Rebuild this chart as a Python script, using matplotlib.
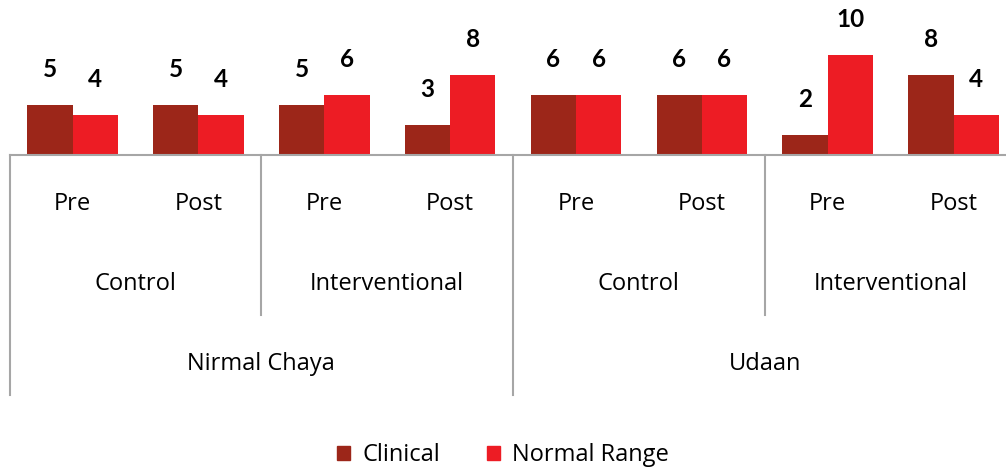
import matplotlib
matplotlib.use("Agg")
import matplotlib.pyplot as plt
from matplotlib.patches import Patch
import matplotlib.transforms as mtransforms

# Data
timepoints = ["Pre", "Post", "Pre", "Post", "Pre", "Post", "Pre", "Post"]
arms = ["Control", "Interventional", "Control", "Interventional"]
sites = ["Nirmal Chaya", "Udaan"]
clinical = [5, 5, 5, 3, 6, 6, 2, 8]
normal_range = [4, 4, 6, 8, 6, 6, 10, 4]
series_names = ["Clinical", "Normal Range"]

c_clin = "#9C2619"
c_norm = "#ED1C24"
grid_c = "#A6A6A6"
font = "Open Sans"
numfont = "Lato"
cat_size = 17

W, H = 1006, 468
fig = plt.figure(figsize=(W / 100, H / 100), dpi=100)
base_px = 155
left_px = 9.6
width_px = 1006.9
ax = fig.add_axes([left_px / W, (H - base_px) / H, width_px / W, base_px / H])

n = len(clinical)
xs = list(range(n))
bw = 0.36
ax.bar([x - bw / 2 for x in xs], clinical, width=bw, color=c_clin, label=series_names[0])
ax.bar([x + bw / 2 for x in xs], normal_range, width=bw, color=c_norm, label=series_names[1])

for x, v in zip(xs, clinical):
    ax.annotate(str(v), (x - bw / 2, v), xytext=(0, 17.5), textcoords="offset points",
                ha="center", va="bottom", fontsize=17.5, fontweight="bold", family=numfont)
for x, v in zip(xs, normal_range):
    ax.annotate(str(v), (x + bw / 2, v), xytext=(0, 17.5), textcoords="offset points",
                ha="center", va="bottom", fontsize=17.5, fontweight="bold", family=numfont)

ax.set_xlim(-0.5, n - 0.5)
ax.set_ylim(0, base_px / 10)
for s in ["top", "right", "left"]:
    ax.spines[s].set_visible(False)
ax.spines["bottom"].set_color(grid_c)
ax.spines["bottom"].set_linewidth(1.5)
ax.set_xticks([])
ax.set_yticks([])

trans = mtransforms.blended_transform_factory(ax.transData, ax.transAxes)

def yfrac(py):
    return (base_px - py) / base_px

# timepoint labels
for x, t in zip(xs, timepoints):
    ax.text(x, yfrac(204), t, transform=trans, ha="center", va="center",
            fontsize=cat_size, family=font)
# arm labels
for i, a in enumerate(arms):
    ax.text(2 * i + 0.5, yfrac(284), a, transform=trans, ha="center", va="center",
            fontsize=cat_size, family=font)
# site labels
for i, s in enumerate(sites):
    ax.text(4 * i + 1.5, yfrac(364), s, transform=trans, ha="center", va="center",
            fontsize=cat_size, family=font)

# separator lines
for xb in [-0.5, 3.5, 7.5]:
    ax.plot([xb, xb], [0, yfrac(395)], transform=trans, color=grid_c, lw=1.5, clip_on=False)
for xb in [1.5, 5.5]:
    ax.plot([xb, xb], [0, yfrac(315)], transform=trans, color=grid_c, lw=1.5, clip_on=False)

handles = [Patch(color=c_clin, label=series_names[0]), Patch(color=c_norm, label=series_names[1])]
fig.legend(handles=handles, loc="center", bbox_to_anchor=(0.5, (H - 455) / H), ncol=2,
           frameon=False, prop={"family": font, "size": cat_size}, handlelength=0.55,
           handleheight=0.55, handletextpad=0.5, columnspacing=2.0)

fig.savefig("out.png", dpi=100)
